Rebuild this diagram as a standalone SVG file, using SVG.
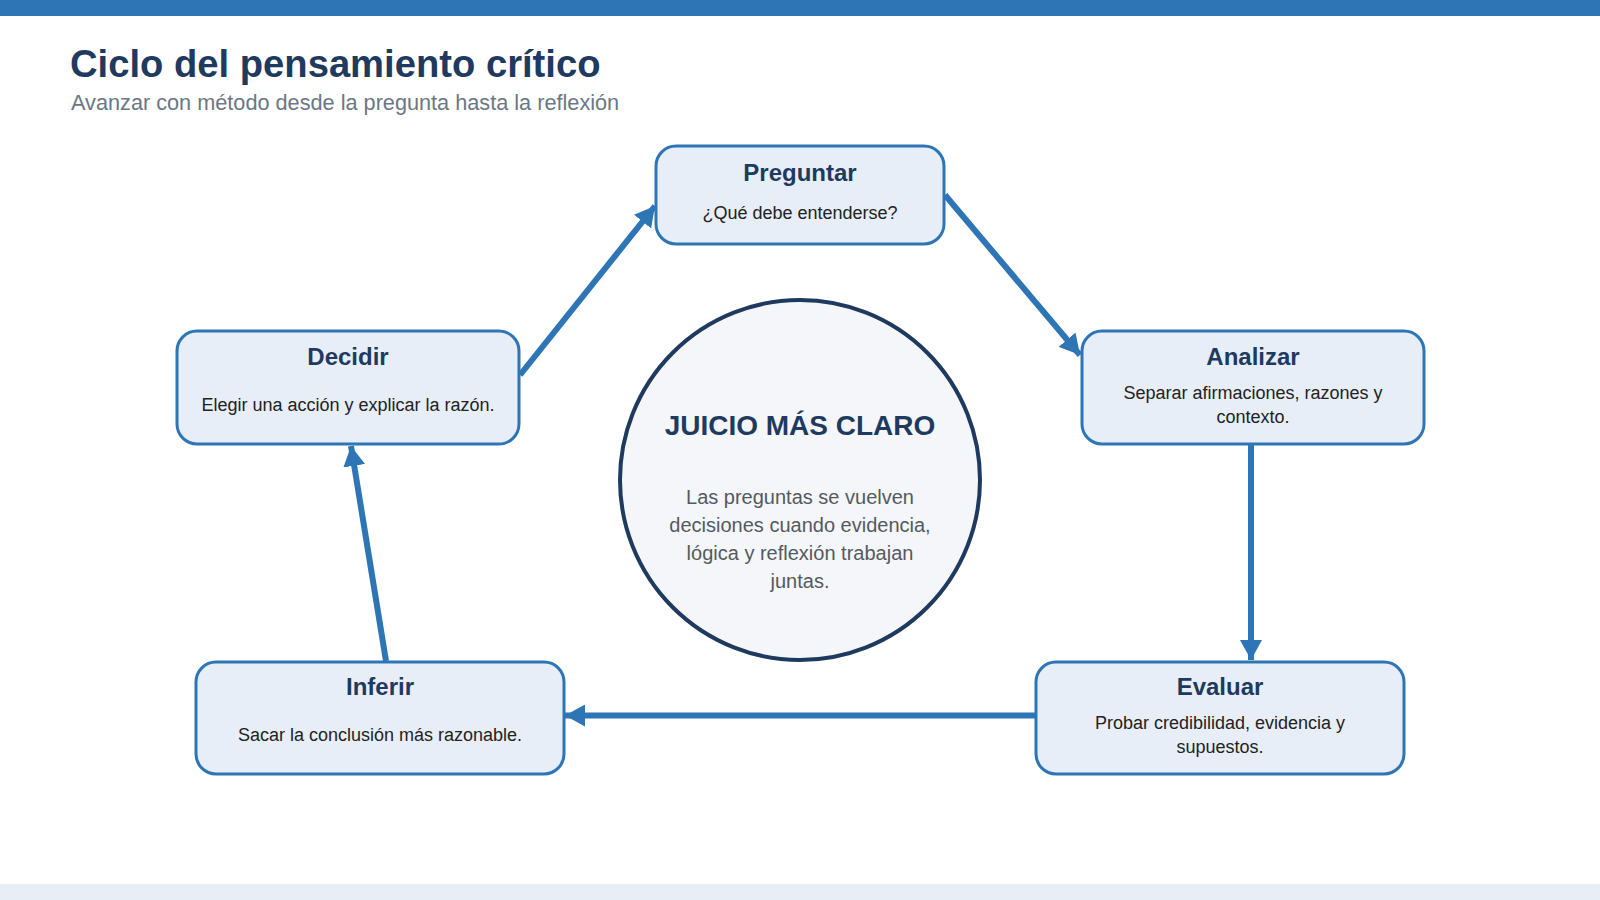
<svg xmlns="http://www.w3.org/2000/svg" width="1600" height="900" viewBox="0 0 1600 900">
  <style>
    .title { font-family: "Liberation Sans", Arial, sans-serif; font-weight: bold; font-size: 38.2px; fill: #1f3a5f; }
    .subtitle { font-family: "Liberation Sans", Arial, sans-serif; font-size: 21.7px; fill: #6b7785; }
    .box { fill: #e8eef7; stroke: #2e75b6; stroke-width: 3; }
    .ntitle { font-family: "Liberation Sans", Arial, sans-serif; font-weight: bold; font-size: 24px; fill: #1f3a5f; text-anchor: middle; }
    .ndesc { font-family: "Liberation Sans", Arial, sans-serif; font-size: 18px; fill: #222222; text-anchor: middle; }
    .conn { stroke: #2e75b6; stroke-width: 6; fill: none; marker-end: url(#arrow); }
    .hub { fill: #f4f6fa; stroke: #1f3a5f; stroke-width: 4; }
    .hubtitle { font-family: "Liberation Sans", Arial, sans-serif; font-weight: bold; font-size: 28px; fill: #1f3a5f; text-anchor: middle; }
    .hubtext { font-family: "Liberation Sans", Arial, sans-serif; font-size: 20px; fill: #555a60; text-anchor: middle; }
  </style>
  <defs>
    <marker id="arrow" markerUnits="userSpaceOnUse" markerWidth="20" markerHeight="22" viewBox="0 0 20 22" refX="20" refY="11" orient="auto">
      <path d="M0,0 L20,11 L0,22 Z" fill="#2e75b6"/>
    </marker>
  </defs>

  <rect x="0" y="0" width="1600" height="900" fill="#ffffff"/>
  <rect x="0" y="0" width="1600" height="16" fill="#2e75b6"/>
  <rect x="0" y="884" width="1600" height="16" fill="#e7eef6"/>

  <g id="header">
    <text class="title" x="70" y="77">Ciclo del pensamiento crítico</text>
    <text class="subtitle" x="71" y="110">Avanzar con método desde la pregunta hasta la reflexión</text>
  </g>

  <g id="connectors">
    <line class="conn" x1="520" y1="375" x2="655" y2="206"/>
    <line class="conn" x1="945" y1="195" x2="1080" y2="355"/>
    <line class="conn" x1="1251" y1="445" x2="1251" y2="660"/>
    <line class="conn" x1="1036" y1="715.5" x2="565" y2="715.5"/>
    <line class="conn" x1="386" y1="661" x2="351" y2="446"/>
  </g>

  <g id="hub">
    <circle class="hub" cx="800" cy="480" r="180"/>
    <text class="hubtitle" x="800" y="435">JUICIO MÁS CLARO</text>
    <text class="hubtext" x="800" y="504">Las preguntas se vuelven</text>
    <text class="hubtext" x="800" y="532">decisiones cuando evidencia,</text>
    <text class="hubtext" x="800" y="560">lógica y reflexión trabajan</text>
    <text class="hubtext" x="800" y="588">juntas.</text>
  </g>

  <g id="node-preguntar">
    <rect class="box" x="656" y="146" width="288" height="98" rx="20"/>
    <text class="ntitle" x="800" y="181">Preguntar</text>
    <text class="ndesc" x="800" y="219">¿Qué debe entenderse?</text>
  </g>

  <g id="node-analizar">
    <rect class="box" x="1082" y="331" width="342" height="113" rx="20"/>
    <text class="ntitle" x="1253" y="365">Analizar</text>
    <text class="ndesc" x="1253" y="399">Separar afirmaciones, razones y</text>
    <text class="ndesc" x="1253" y="423">contexto.</text>
  </g>

  <g id="node-evaluar">
    <rect class="box" x="1036" y="662" width="368" height="112" rx="20"/>
    <text class="ntitle" x="1220" y="695">Evaluar</text>
    <text class="ndesc" x="1220" y="729">Probar credibilidad, evidencia y</text>
    <text class="ndesc" x="1220" y="753">supuestos.</text>
  </g>

  <g id="node-inferir">
    <rect class="box" x="196" y="662" width="368" height="112" rx="20"/>
    <text class="ntitle" x="380" y="695">Inferir</text>
    <text class="ndesc" x="380" y="741">Sacar la conclusión más razonable.</text>
  </g>

  <g id="node-decidir">
    <rect class="box" x="177" y="331" width="342" height="113" rx="20"/>
    <text class="ntitle" x="348" y="365">Decidir</text>
    <text class="ndesc" x="348" y="411">Elegir una acción y explicar la razón.</text>
  </g>
</svg>
